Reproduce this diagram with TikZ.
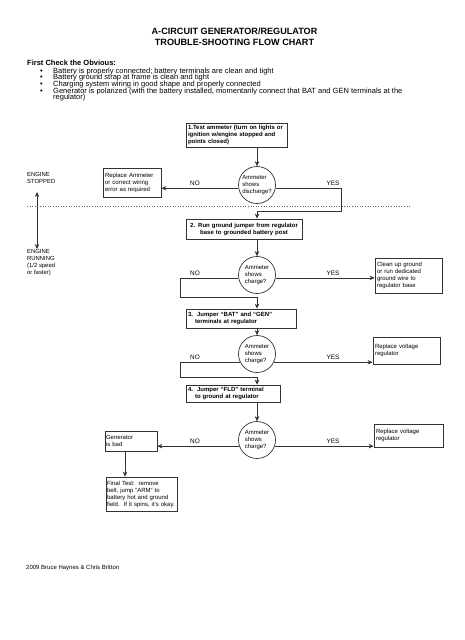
\documentclass[tikz,border=0pt]{standalone}
\usepackage{fontspec}
\setmainfont{Liberation Sans}
\usetikzlibrary{arrows.meta}
\begin{document}
\begin{tikzpicture}[x=1pt,y=-1pt,
  ln/.style={draw=black!80, line width=0.7pt},
  arr/.style={ln, -{Stealth[length=5pt,width=4.5pt]}},
  box/.style={draw=black!80, line width=0.8pt, align=left, inner xsep=2pt, inner ysep=1pt, font=\fontsize{6}{7}\selectfont},
  bbox/.style={box, font=\fontsize{6}{7}\selectfont\bfseries},
  dec/.style={circle, draw=black!80, line width=0.7pt, minimum size=37pt, inner sep=0pt, align=left, font=\fontsize{6}{6.8}\selectfont},
  lbl/.style={font=\fontsize{6.4}{7}\selectfont, inner sep=0pt},
  txt/.style={anchor=base west, inner sep=0pt, font=\fontsize{7.5}{8}\selectfont},
  side/.style={anchor=north west, inner sep=0pt, align=left, font=\fontsize{5.9}{6.9}\selectfont},
]
\useasboundingbox (0,0) rectangle (465,640);
\fill[white] (0,0) rectangle (465,640);

% title
\node[font=\fontsize{9.1}{11}\selectfont\bfseries, align=center] (title) at (234.5,36.5) {A-CIRCUIT GENERATOR/REGULATOR\\TROUBLE-SHOOTING FLOW CHART};

\node[txt, font=\fontsize{7.5}{8}\selectfont\bfseries] (first) at (27,65.5) {First Check the Obvious:};
\foreach \yy/\t [count=\i] in {73.3/{Battery is properly connected; battery terminals are clean and tight},
  79.9/{Battery ground strap at frame is clean and tight},
  86.5/{Charging system wiring in good shape and properly connected},
  93.1/{Generator is polarized (with the battery installed, momentarily connect that BAT and GEN terminals at the}}{
  \node[txt] (bul\i) at (40,\yy) {\textbullet};
  \node[txt] (bt\i) at (53,\yy) {\t};
}
\node[txt] (bt5) at (53,99.7) {regulator)};

% side labels
\node[side] (stopped) at (27,172) {ENGINE\\STOPPED};
\node[side] (running) at (27,249) {ENGINE\\RUNNING\\(1/2 speed\\or faster)};
\coordinate (es) at (37,192);
\coordinate (er) at (37,249);
\draw[ln, {Stealth[length=5pt,width=4.5pt]}-{Stealth[length=5pt,width=4.5pt]}] (es) -- (er);
\coordinate (dl) at (27,206);
\coordinate (dr) at (410,206);
\draw[black!60, dotted, line width=0.6pt] (dl) -- (dr);

% boxes
\node[bbox, minimum width=101pt, text width=97pt, minimum height=24pt] (b1) at (236.5,135) {1.Test ammeter (turn on lights or\\ignition w/engine stopped and\\points closed)};
\node[box, minimum width=58pt, text width=54pt, minimum height=29pt] (r1) at (132,182.5) {Replace Ammeter\\or correct wiring\\error as required};
\node[bbox, align=center, minimum width=116pt, text width=112pt, minimum height=20pt] (b2) at (244,229) {2. Run ground jumper from regulator\\base to grounded battery post};
\node[box, minimum width=67pt, text width=63pt, minimum height=35pt] (clean) at (408.5,275.5) {Clean up ground\\or run dedicated\\ground wire to\\regulator base};
\node[bbox, minimum width=110pt, text width=106pt, minimum height=19pt] (b3) at (241,318.5) {3.\ \ Jumper “BAT” and “GEN”\\\hspace*{7pt}terminals at regulator};
\node[box, minimum width=67pt, text width=63pt, minimum height=27pt] (r2) at (406.5,350.5) {Replace voltage\\regulator};
\node[bbox, minimum width=94pt, text width=90pt, minimum height=17pt] (b4) at (233,393.5) {4.\ \ Jumper “FLD” terminal\\\hspace*{7pt}to ground at regulator};
\node[box, minimum width=52pt, text width=50pt, inner xsep=1pt, minimum height=20pt] (gen) at (131,441) {Generator\\is bad};
\node[box, minimum width=69pt, text width=65pt, minimum height=23pt] (r3) at (408.5,435.5) {Replace voltage\\regulator};
\node[box, minimum width=71pt, text width=69pt, inner xsep=1pt, minimum height=34pt] (fin) at (141.5,494) {Final Test:\ \ remove\\belt, jump “ARM” to\\battery hot and ground\\field.\ \ If it spins, it’s okay.};

% decisions
\node[dec] (c1) at (257,185) {Ammeter\\shows\\discharge?};
\node[dec] (c2) at (257,275) {Ammeter\\shows\\charge?};
\node[dec] (c3) at (257,354) {Ammeter\\shows\\charge?};
\node[dec] (c4) at (257,440) {Ammeter\\shows\\charge?};

% labels
\node[lbl] (no1) at (195,183) {NO};
\node[lbl] (yes1) at (333,183) {YES};
\node[lbl] (no2) at (195,273) {NO};
\node[lbl] (yes2) at (333,273) {YES};
\node[lbl] (no3) at (195,357) {NO};
\node[lbl] (yes3) at (333,357) {YES};
\node[lbl] (no4) at (195,441) {NO};
\node[lbl] (yes4) at (333,441) {YES};

% connectors
\draw[arr] (b1.south -| c1.north) -- (c1.north);
\draw[arr] (c1.190) -- (r1.east |- c1.190);
\coordinate (y1) at (341,211);
\draw[arr] (c1.350) -| (y1) -- (y1 -| c1.south) -- (b2.north -| c1.south);

\draw[arr] (b2.south -| c2.north) -- (c2.north);
\coordinate (n2) at (180,297);
\draw[arr] (c2.189) -| (n2) -- (n2 -| c2.south) -- (b3.north -| c2.south);
\draw[arr] (c2.351) -- (clean.west |- c2.351);

\draw[arr] (b3.south -| c3.north) -- (c3.north);
\coordinate (n3) at (180,377);
\draw[arr] (c3.206) -| (n3) -- (n3 -| c3.south) -- (b4.north -| c3.south);
\draw[arr] (c3.334) -- (r2.west |- c3.334);

\draw[arr] (b4.south -| c4.north) -- (c4.north);
\draw[arr] (c4.199) -- (gen.east |- c4.199);
\draw[arr] (c4.341) -- (r3.west |- c4.341);
\draw[arr] ([xshift=-6pt]gen.south) -- ([xshift=-6pt]gen.south |- fin.north);

% footer
\node[txt, font=\fontsize{6}{7}\selectfont] (foot) at (26,569) {2009 Bruce Haynes \& Chris Britton};
\end{tikzpicture}
\end{document}
